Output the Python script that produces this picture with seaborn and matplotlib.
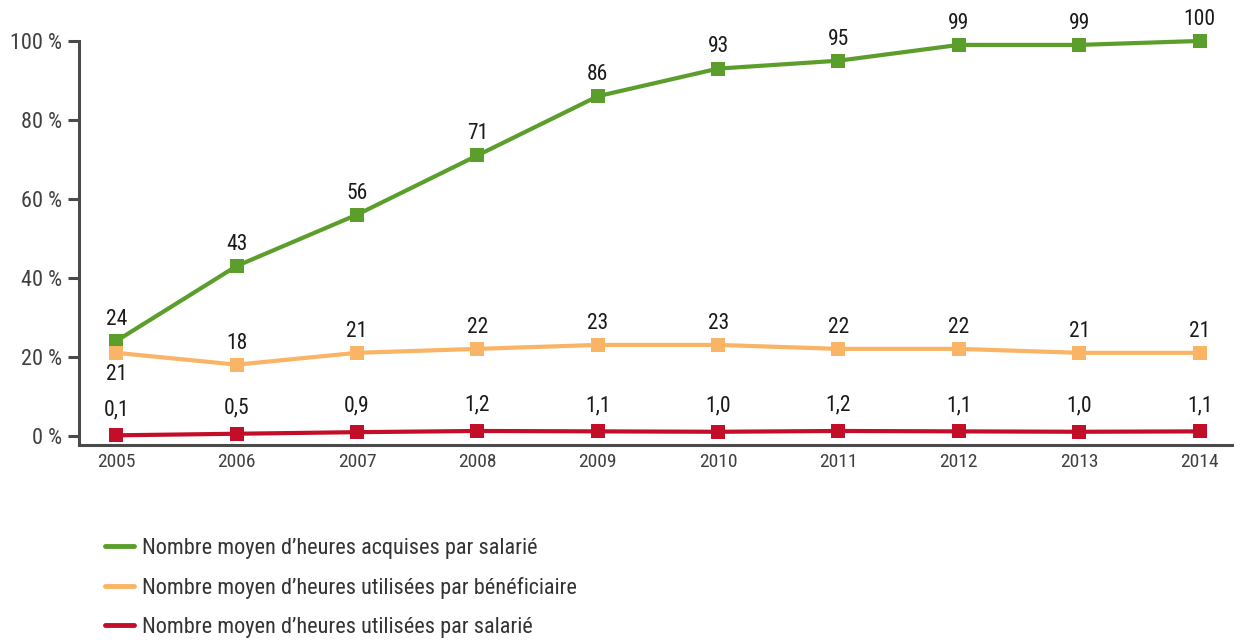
import matplotlib
matplotlib.use("Agg")
import matplotlib.pyplot as plt
from matplotlib import font_manager
from matplotlib.lines import Line2D
import seaborn as sns
import pandas as pd

years = [2005, 2006, 2007, 2008, 2009, 2010, 2011, 2012, 2013, 2014]
heures_acquises = [24, 43, 56, 71, 86, 93, 95, 99, 99, 100]
heures_beneficiaire = [21, 18, 21, 22, 23, 23, 22, 22, 21, 21]
heures_salarie = [0.1, 0.5, 0.9, 1.2, 1.1, 1.0, 1.2, 1.1, 1.0, 1.1]

series_names = [
    "Nombre moyen d\u2019heures acquises par salari\u00e9",
    "Nombre moyen d\u2019heures utilis\u00e9es par b\u00e9n\u00e9ficiaire",
    "Nombre moyen d\u2019heures utilis\u00e9es par salari\u00e9",
]
colors = ["#5b9e2b", "#f9b465", "#c20e28"]
y_ticks = [0, 20, 40, 60, 80, 100]

sns.set_theme(style="white")
available = {f.name for f in font_manager.fontManager.ttflist}
family = "Roboto"
for cand in ["Roboto Condensed", "Archivo Narrow", "PT Sans Narrow",
             "Liberation Sans Narrow", "Fira Sans Condensed"]:
    if cand in available:
        family = cand
        break
plt.rcParams["font.family"] = [family, "DejaVu Sans"]

df = pd.DataFrame({
    "year": years * 3,
    "value": heures_acquises + heures_beneficiaire + heures_salarie,
    "serie": [series_names[0]] * 10 + [series_names[1]] * 10 + [series_names[2]] * 10,
})

fig = plt.figure(figsize=(12.42, 6.4), dpi=100)
ax = fig.add_axes([0.0636, 0.305, 0.9284, 0.631])

sns.lineplot(data=df, x="year", y="value", hue="serie", palette=colors,
             marker="s", markersize=10, markeredgewidth=0, linewidth=3,
             legend=False, ax=ax, zorder=3, clip_on=False)

ax.set_xlim(2004.69, 2014.27)
ax.set_ylim(-2.3, 100)
ax.set_xticks(years)
ax.set_xticklabels([str(y) for y in years], fontsize=14, color="#404040")
ax.set_yticks(y_ticks)
ax.set_yticklabels([f"{v} %" for v in y_ticks], fontsize=16, color="#404040")
ax.set_xlabel("")
ax.set_ylabel("")
ax.tick_params(axis="y", length=8, width=2.2, color="#4a4a4a", pad=4, left=True)
ax.tick_params(axis="x", length=0, pad=6)
for side in ["top", "right"]:
    ax.spines[side].set_visible(False)
for side in ["left", "bottom"]:
    ax.spines[side].set_color("#4a4a4a")
    ax.spines[side].set_linewidth(2.2)

label_kw = dict(textcoords="offset points", ha="center", fontsize=15.5, color="#1a1a1a")

# value labels
for x, v in zip(years, heures_acquises):
    ax.annotate(f"{v}", (x, v), xytext=(0, 8), va="bottom", **label_kw)
for i, (x, v) in enumerate(zip(years, heures_beneficiaire)):
    if i == 0:
        ax.annotate(f"{v}", (x, v), xytext=(0, -8), va="top", **label_kw)
    else:
        ax.annotate(f"{v}", (x, v), xytext=(0, 8), va="bottom", **label_kw)
for x, v in zip(years, heures_salarie):
    ax.annotate(f"{v:.1f}".replace(".", ","), (x, v), xytext=(0, 11),
                va="bottom", **label_kw)

handles = [Line2D([0], [0], color=c, lw=3.5, solid_capstyle="round") for c in colors]
fig.legend(handles, series_names, loc="upper left", bbox_to_anchor=(0.0775, 0.173),
           frameon=False, fontsize=16, handlelength=1.3, handletextpad=0.35,
           labelspacing=0.8, labelcolor="#333333", borderaxespad=0)

fig.savefig("out.png", dpi=100)
